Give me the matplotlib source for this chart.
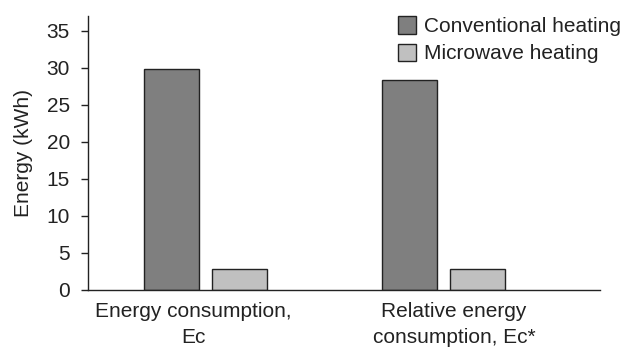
import numpy as np
import matplotlib.pyplot as plt

plt.rcParams['font.family'] = ['Liberation Sans', 'DejaVu Sans']

categories = ["Energy consumption,\nEc", "Relative energy\nconsumption, Ec*"]
conventional = [29.8, 28.4]
microwave = [2.8, 2.8]
series_names = ["Conventional heating", "Microwave heating"]

fig = plt.figure(figsize=(6.23, 3.47), dpi=100)
ax = fig.add_axes([0.1413, 0.1643, 0.8218, 0.7896])

centers = np.array([0.46, 1.39])
w = 0.215
off = 0.133
ax.bar(centers - off, conventional, w, color='#7f7f7f', edgecolor='#222222', linewidth=1.0, label=series_names[0])
ax.bar(centers + off, microwave, w, color='#c0c0c0', edgecolor='#222222', linewidth=1.0, label=series_names[1])

ax.set_xlim(0, 2)
ax.set_ylim(0, 37)
ax.set_yticks(range(0, 36, 5))
ax.set_xticks(centers + np.array([-0.05, 0.04]))
ax.set_xticklabels(categories, fontsize=15, color='#222222', linespacing=1.45)
ax.tick_params(axis='x', length=0, pad=9)
ax.tick_params(axis='y', labelsize=15, length=5, width=1, colors='#222222', pad=8)
ax.set_ylabel("Energy (kWh)", fontsize=15, color='#222222')
ax.yaxis.set_label_coords(-0.107, 0.5)

for s in ['top', 'right']:
    ax.spines[s].set_visible(False)
for s in ['left', 'bottom']:
    ax.spines[s].set_color('#222222')
    ax.spines[s].set_linewidth(1.0)

ax.legend(loc='upper right', bbox_to_anchor=(1.0 + 8 / 623, 1.0 - 6 / 347), bbox_transform=fig.transFigure,
          frameon=False, fontsize=15, handlelength=0.9, handleheight=0.9,
          handletextpad=0.35, labelspacing=0.35, borderaxespad=0.1, labelcolor='#222222')

fig.savefig("out.png", dpi=100)
